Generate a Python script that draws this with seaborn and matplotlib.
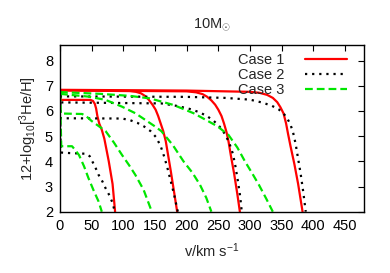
import matplotlib
matplotlib.use("Agg")
import matplotlib.pyplot as plt
from matplotlib.lines import Line2D
import seaborn as sns
import pandas as pd

# ---- data ----
case_names = ["Case 1", "Case 2", "Case 3"]

case1_v = [
    [0, 1, 48, 52, 55, 57, 59, 62, 66, 70, 77, 83, 87],
    [0, 110, 120, 128, 134, 140, 146, 151, 155, 159, 163, 167, 171, 175, 180, 185],
    [0, 200, 215, 225, 232, 239, 245, 250, 255, 259, 263, 266, 270, 275, 280, 284],
    [0, 200, 300, 315, 327, 336, 343, 348, 353, 357, 360, 364, 370, 376, 383],
]
case1_y = [
    [6.84, 6.44, 6.44, 6.4, 6.28, 6.1, 5.8, 5.5, 5.25, 4.9, 4.0, 3.1, 2.0],
    [6.82, 6.79, 6.76, 6.7, 6.6, 6.45, 6.25, 6.05, 5.8, 5.5, 5.2, 4.8, 4.2, 3.6, 2.8, 2.0],
    [6.82, 6.78, 6.74, 6.67, 6.57, 6.42, 6.25, 6.05, 5.8, 5.5, 5.15, 4.8, 4.2, 3.5, 2.7, 2.0],
    [6.84, 6.81, 6.76, 6.72, 6.64, 6.52, 6.35, 6.15, 5.9, 5.5, 5.1, 4.6, 3.9, 3.1, 2.0],
]

case2_v = [
    [0, 1, 14, 42, 47, 51, 56, 61, 67, 72, 78, 83, 86.5],
    [0, 1, 98, 110, 122, 133, 143, 152, 159, 165, 170, 175, 180, 186],
    [0, 1, 160, 185, 205, 220, 232, 243, 252, 260, 267, 273, 277, 281, 284.5, 287],
    [0, 1, 200, 260, 300, 320, 335, 345, 353, 359, 364, 368, 372, 376, 380, 384, 388],
]
case2_y = [
    [6.6, 4.35, 4.33, 4.3, 4.2, 4.0, 3.75, 3.46, 3.2, 2.93, 2.65, 2.35, 2.0],
    [6.6, 5.71, 5.7, 5.64, 5.53, 5.38, 5.2, 4.95, 4.6, 4.15, 3.7, 3.2, 2.7, 2.0],
    [6.6, 6.34, 6.3, 6.2, 6.08, 5.95, 5.8, 5.6, 5.38, 5.1, 4.75, 4.3, 3.8, 3.2, 2.6, 2.0],
    [6.6, 6.58, 6.56, 6.52, 6.45, 6.33, 6.2, 6.07, 5.9, 5.7, 5.45, 5.15, 4.7, 4.1, 3.5, 2.8, 2.0],
]

case3_v = [
    [0, 2, 19, 24, 30, 38, 45, 53, 61, 66],
    [0, 1, 35, 42, 50, 60, 72, 85, 98, 109, 119, 132, 145],
    [0, 45, 72, 98, 119, 135, 148, 160, 178, 195, 209, 221, 231, 239],
    [0, 64, 110, 142, 179, 211, 230, 248, 266, 280, 292, 304, 314, 326, 336],
]
case3_y = [
    [6.7, 4.6, 4.6, 4.45, 4.25, 3.8, 3.33, 2.85, 2.4, 2.0],
    [6.7, 5.9, 5.88, 5.78, 5.6, 5.42, 5.2, 4.75, 4.25, 3.85, 3.46, 2.87, 2.0],
    [6.68, 6.57, 6.44, 6.17, 5.91, 5.64, 5.42, 5.2, 4.65, 4.0, 3.55, 3.07, 2.55, 2.0],
    [6.75, 6.68, 6.6, 6.5, 6.24, 5.91, 5.65, 5.4, 5.05, 4.55, 4.0, 3.5, 3.07, 2.5, 2.0],
]

x_ticks = [0, 50, 100, 150, 200, 250, 300, 350, 400, 450]
y_ticks = [2, 3, 4, 5, 6, 7, 8]

# ---- long-form table ----
rows = []
for name, vs, ys in zip(case_names, [case1_v, case2_v, case3_v], [case1_y, case2_y, case3_y]):
    for k, (v, y) in enumerate(zip(vs, ys)):
        for i, (a, b) in enumerate(zip(v, y)):
            rows.append({"case": name, "curve": k, "order": i, "v": a, "y": b})
df = pd.DataFrame(rows)

colors = {"Case 1": "#ff0000", "Case 2": "#000000", "Case 3": "#00e600"}
dashes = {"Case 1": "-", "Case 2": (0, (1, 2.2)), "Case 3": (0, (3.5, 1.8))}

sns.set_theme(style="white")
plt.rcParams["font.family"] = ["Liberation Sans", "DejaVu Sans"]
plt.rcParams["mathtext.fontset"] = "custom"
plt.rcParams["mathtext.rm"] = "Liberation Sans"
plt.rcParams["mathtext.it"] = "Liberation Sans"

fig = plt.figure(figsize=(3.9, 2.73), dpi=100)
ax = fig.add_axes([60 / 390, 1 - 211.7 / 273, 304 / 390, (211.7 - 45) / 273])

for name in case_names:
    sub = df[df["case"] == name]
    sns.lineplot(data=sub, x="v", y="y", units="curve", estimator=None, sort=False,
                 color=colors[name], linewidth=1.6, linestyle=dashes[name],
                 legend=False, ax=ax)

ax.set_xlim(0, 480)
ax.set_ylim(2, 8.62)
ax.set_xticks(x_ticks)
ax.set_yticks(y_ticks)
ax.tick_params(direction="in", length=4.5, width=0.8, top=True, right=True,
               labelsize=10.5, colors="black", pad=5)
for s in ax.spines.values():
    s.set_color("black")
    s.set_linewidth(1.0)

ax.set_xlabel(r"v/km s$^{-1}$", fontsize=10.5, labelpad=6)
ax.set_ylabel(r"12+log$_{10}$[$^{3}$He/H]", fontsize=10.5, labelpad=4)
ax.set_title(r"10M$_{\odot}$", fontsize=10.5, pad=12)

handles = [Line2D([0], [0], color=colors[n], lw=1.6, linestyle=dashes[n]) for n in case_names]
ax.legend(handles, case_names, loc="upper right", frameon=False, markerfirst=False,
          fontsize=10.5, handlelength=2.9, handletextpad=1.4, labelspacing=0.08,
          borderaxespad=0.3, bbox_to_anchor=(0.977, 1.015))

fig.savefig("out.png", dpi=100)
